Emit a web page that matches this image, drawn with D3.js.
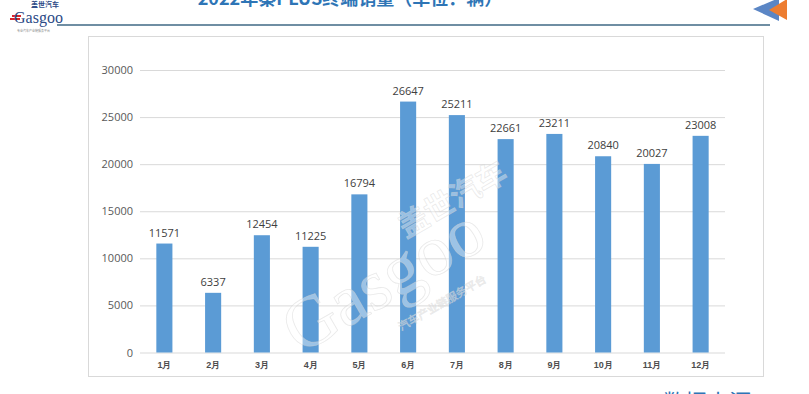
<!DOCTYPE html>
<html>
<head>
<meta charset="utf-8">
<script src="https://cdn.jsdelivr.net/npm/d3@7"></script>
<style>
  html, body { margin: 0; padding: 0; background: #fff; overflow: hidden; }
  svg { display: block; font-family: "Noto Sans CJK SC", "Open Sans", sans-serif; }
</style>
</head>
<body>
<svg id="chart"></svg>
<script>
(function() {

const months = ["1月", "2月", "3月", "4月", "5月", "6月", "7月", "8月", "9月", "10月", "11月", "12月"];
const sales = [11571, 6337, 12454, 11225, 16794, 26647, 25211, 22661, 23211, 20840, 20027, 23008];
const yTicks = [0, 5000, 10000, 15000, 20000, 25000, 30000];

const W = 809, H = 394;
const svg = d3.select("#chart").attr("width", W).attr("height", H);

// header: logo, title, rule, arrow
const logo = svg.append("g");
logo.append("text").attr("x", 31).attr("y", 7).style("font-size", "7px")
  .style("font-weight", "bold").attr("fill", "#2b4a86").text("盖世汽车");
logo.append("rect").attr("x", 12).attr("y", 15).attr("width", 9).attr("height", 2).attr("fill", "#d7262b");
logo.append("rect").attr("x", 10).attr("y", 18).attr("width", 10).attr("height", 2).attr("fill", "#d7262b");
logo.append("text").attr("x", 14).attr("y", 23).style("font-family", "'Liberation Serif', serif")
  .style("font-size", "16px").attr("fill", "#2b4a86").text("Gasgoo");
logo.append("text").attr("x", 17).attr("y", 32).style("font-size", "3px")
  .attr("fill", "#8a8a8a").text("专业汽车产业链服务平台");

svg.append("text")
  .attr("x", 350).attr("y", 5)
  .attr("text-anchor", "middle")
  .style("font-size", "18px").style("font-weight", "bold")
  .attr("fill", "#2e75b6")
  .text("2022年秦PLUS终端销量（单位：辆）");

svg.append("line").attr("x1", 57).attr("x2", 770).attr("y1", 25).attr("y2", 25)
  .attr("stroke", "#3f6884").attr("stroke-width", 1.3);

svg.append("path").attr("d", "M753,9 L779,-2 L779,21 Z").attr("fill", "#5b86c5");
svg.append("path").attr("d", "M769,10 L787,-1 L787,20 Z").attr("fill", "#ed7d31");

// chart frame
svg.append("rect").attr("x", 88.5).attr("y", 36.5).attr("width", 675).attr("height", 340)
  .attr("fill", "none").attr("stroke", "#d9d9d9");

const plot = { left: 140, right: 725, top: 70, bottom: 352.5 };

const x = d3.scaleBand().domain(months).range([plot.left, plot.right]).paddingInner(0.67).paddingOuter(0.335);
const y = d3.scaleLinear().domain([0, 30000]).range([plot.bottom, plot.top]);

// gridlines + y labels
const yAxis = svg.append("g")
  .attr("transform", `translate(${plot.left},0)`)
  .call(d3.axisLeft(y).tickValues(yTicks).tickSize(-(plot.right - plot.left)).tickPadding(7).tickFormat(d3.format("d")));
yAxis.select(".domain").remove();
yAxis.selectAll(".tick line").attr("stroke", "#d9d9d9");
yAxis.selectAll(".tick text").attr("fill", "#595959").style("font-size", "11px")
  .style("font-family", "'Open Sans', sans-serif");

// bars
svg.selectAll(".bar")
  .data(sales)
  .enter().append("rect")
  .attr("class", "bar")
  .attr("x", (d, i) => x(months[i]))
  .attr("y", d => y(d))
  .attr("width", x.bandwidth())
  .attr("height", d => y(0) - y(d))
  .attr("fill", "#5b9bd5");

// value labels
svg.selectAll(".val")
  .data(sales)
  .enter().append("text")
  .attr("class", "val")
  .attr("x", (d, i) => x(months[i]) + x.bandwidth() / 2)
  .attr("y", d => y(d) - 7)
  .attr("text-anchor", "middle")
  .attr("fill", "#404040")
  .style("font-size", "11px")
  .style("font-family", "'Open Sans', sans-serif")
  .text(d => d);

// month labels
const xAxis = svg.append("g")
  .attr("transform", `translate(0,${plot.bottom})`)
  .call(d3.axisBottom(x).tickSize(0).tickPadding(9));
xAxis.select(".domain").remove();
xAxis.selectAll(".tick text").attr("fill", "#4d4d4d").style("font-size", "9px").style("font-weight", "bold");

// watermark
const wm = svg.append("g").attr("transform", "translate(395,300) rotate(-30)")
  .attr("fill", "#ffffff").attr("fill-opacity", 0.4)
  .attr("stroke", "#cfcfcf").attr("stroke-opacity", 0.45).attr("stroke-width", 0.8);
wm.append("text").attr("x", 40).attr("y", -48).style("font-size", "30px").style("font-weight", "bold").text("盖世汽车");
wm.append("text").attr("x", -110).attr("y", 0).style("font-family", "'Liberation Serif', serif")
  .style("font-size", "72px").text("Gasgoo");
wm.append("text").attr("x", -10).attr("y", 30).style("font-size", "11px").text("汽车产业链服务平台");

// source footer (cropped at bottom)
svg.append("text").attr("x", 663).attr("y", 410)
  .style("font-size", "22px").attr("fill", "#2e75b6").text("数据来源");

})();
</script>
</body>
</html>
